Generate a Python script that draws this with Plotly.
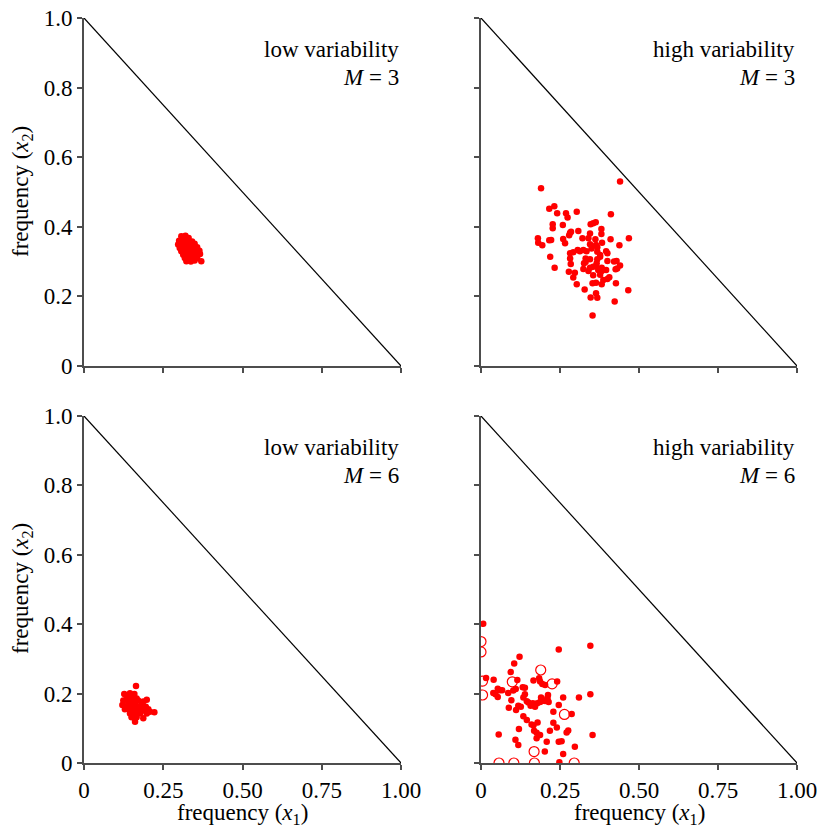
import plotly.graph_objects as go

# ---------------- data ----------------
x_ticks = [0, 0.25, 0.5, 0.75, 1.0]
x_tick_labels = ["0", "0.25", "0.50", "0.75", "1.00"]
y_ticks = [0, 0.2, 0.4, 0.6, 0.8, 1.0]
y_tick_labels = ["0", "0.2", "0.4", "0.6", "0.8", "1.0"]

panel_titles = ["low variability", "high variability", "low variability", "high variability"]
panel_M = [3, 3, 6, 6]

# low variability, M = 3
tl_x = [0.307, 0.320, 0.330, 0.300, 0.313, 0.326, 0.341, 0.297, 0.309, 0.323, 0.337, 0.349,
        0.302, 0.315, 0.328, 0.344, 0.357, 0.307, 0.320, 0.333, 0.349, 0.364, 0.313, 0.326,
        0.339, 0.354, 0.366, 0.318, 0.330, 0.344, 0.357, 0.323, 0.337, 0.349, 0.370]
tl_y = [0.373, 0.374, 0.368, 0.360, 0.360, 0.358, 0.358, 0.349, 0.349, 0.349, 0.349, 0.351,
        0.339, 0.339, 0.339, 0.339, 0.341, 0.330, 0.330, 0.330, 0.330, 0.331, 0.320, 0.320,
        0.320, 0.320, 0.322, 0.310, 0.310, 0.310, 0.310, 0.301, 0.300, 0.303, 0.301]

# high variability, M = 3
tr_x = [0.190, 0.440, 0.216, 0.232, 0.241, 0.269, 0.274, 0.303, 0.411, 0.227,
        0.227, 0.259, 0.347, 0.355, 0.363, 0.381, 0.381, 0.308, 0.282, 0.285,
        0.279, 0.345, 0.180, 0.181, 0.194, 0.216, 0.222, 0.260, 0.266, 0.321,
        0.340, 0.362, 0.383, 0.410, 0.468, 0.438, 0.345, 0.364, 0.368, 0.324,
        0.334, 0.350, 0.282, 0.292, 0.306, 0.313, 0.368, 0.377, 0.396, 0.400,
        0.219, 0.282, 0.331, 0.345, 0.368, 0.377, 0.326, 0.331, 0.366, 0.400,
        0.421, 0.429, 0.440, 0.284, 0.345, 0.355, 0.364, 0.382, 0.324, 0.233,
        0.278, 0.297, 0.340, 0.371, 0.382, 0.396, 0.426, 0.431, 0.355, 0.377,
        0.292, 0.387, 0.400, 0.406, 0.353, 0.364, 0.382, 0.427, 0.303, 0.328,
        0.466, 0.364, 0.347, 0.368, 0.423, 0.353]
tr_y = [0.511, 0.530, 0.452, 0.459, 0.439, 0.439, 0.427, 0.443, 0.436, 0.407,
        0.396, 0.405, 0.407, 0.410, 0.413, 0.394, 0.379, 0.388, 0.383, 0.386,
        0.376, 0.381, 0.367, 0.354, 0.347, 0.361, 0.362, 0.365, 0.353, 0.367,
        0.367, 0.364, 0.354, 0.364, 0.367, 0.347, 0.350, 0.348, 0.341, 0.333,
        0.330, 0.338, 0.324, 0.327, 0.333, 0.330, 0.328, 0.319, 0.330, 0.324,
        0.314, 0.309, 0.309, 0.307, 0.307, 0.314, 0.295, 0.299, 0.295, 0.302,
        0.300, 0.302, 0.289, 0.293, 0.282, 0.285, 0.287, 0.282, 0.279, 0.282,
        0.271, 0.268, 0.273, 0.276, 0.273, 0.276, 0.278, 0.280, 0.261, 0.262,
        0.254, 0.247, 0.250, 0.255, 0.238, 0.239, 0.235, 0.238, 0.235, 0.220,
        0.218, 0.209, 0.197, 0.196, 0.185, 0.145]

# low variability, M = 6
bl_x = [0.164, 0.127, 0.145, 0.159, 0.135, 0.150, 0.166, 0.124, 0.140, 0.156, 0.171, 0.187,
        0.198, 0.121, 0.135, 0.150, 0.166, 0.182, 0.195, 0.140, 0.156, 0.171, 0.187, 0.203,
        0.222, 0.145, 0.161, 0.177, 0.198, 0.150, 0.166, 0.187, 0.161, 0.129, 0.208]
bl_y = [0.222, 0.199, 0.201, 0.199, 0.191, 0.189, 0.186, 0.180, 0.179, 0.177, 0.180, 0.177,
        0.182, 0.167, 0.164, 0.167, 0.164, 0.167, 0.162, 0.155, 0.153, 0.155, 0.151, 0.155,
        0.146, 0.143, 0.141, 0.143, 0.143, 0.132, 0.132, 0.129, 0.119, 0.155, 0.148]

# high variability, M = 6 (filled points)
br_x = [0.007, 0.246, 0.346, 0.122, 0.105, 0.094, 0.016, 0.040, 0.115, 0.166,
        0.184, 0.187, 0.241, 0.132, 0.139, 0.194, 0.203, 0.053, 0.060, 0.067,
        0.039, 0.046, 0.053, 0.086, 0.102, 0.110, 0.139, 0.134, 0.212, 0.210,
        0.190, 0.260, 0.310, 0.346, 0.096, 0.145, 0.150, 0.178, 0.187, 0.193,
        0.203, 0.214, 0.210, 0.157, 0.164, 0.171, 0.118, 0.126, 0.088, 0.246,
        0.111, 0.229, 0.287, 0.134, 0.145, 0.179, 0.160, 0.166, 0.229, 0.240,
        0.120, 0.168, 0.176, 0.187, 0.176, 0.218, 0.271, 0.276, 0.056, 0.353,
        0.109, 0.118, 0.208, 0.246, 0.255, 0.297, 0.260, 0.202, 0.248]
br_y = [0.401, 0.327, 0.338, 0.306, 0.287, 0.262, 0.245, 0.240, 0.239, 0.238,
        0.244, 0.235, 0.235, 0.218, 0.217, 0.228, 0.225, 0.214, 0.210, 0.210,
        0.202, 0.198, 0.190, 0.202, 0.209, 0.213, 0.198, 0.189, 0.196, 0.187,
        0.189, 0.189, 0.189, 0.198, 0.181, 0.178, 0.174, 0.172, 0.176, 0.179,
        0.179, 0.176, 0.184, 0.165, 0.172, 0.162, 0.165, 0.162, 0.159, 0.167,
        0.153, 0.148, 0.141, 0.135, 0.124, 0.117, 0.111, 0.109, 0.116, 0.102,
        0.098, 0.093, 0.087, 0.081, 0.071, 0.093, 0.088, 0.094, 0.082, 0.081,
        0.067, 0.052, 0.061, 0.061, 0.063, 0.047, 0.026, 0.033, 0.002]

# high variability, M = 6 (open circles)
br_open_x = [0.000, 0.000, 0.005, 0.005, 0.189, 0.099, 0.225, 0.264, 0.168, 0.057, 0.104, 0.169, 0.295]
br_open_y = [0.350, 0.320, 0.236, 0.196, 0.268, 0.234, 0.228, 0.140, 0.033, 0.000, 0.000, 0.000, 0.000]

simplex_x = [0, 1]
simplex_y = [1, 0]

# ---------------- figure ----------------
W, H = 820, 829
FONT = "Liberation Serif, Times New Roman, serif"
FS = 23
RED = "#ff0000"
AXC = "#4d4d4d"


def px_x(p):
    return p / W


def px_y(p):
    return 1 - p / H


xdom = [[px_x(84), px_x(401)], [px_x(481), px_x(797)]]
ydom = [[px_y(366), px_y(18)], [px_y(763), px_y(416)]]

fig = go.Figure()

panels = [
    (tl_x, tl_y, 0, 0),
    (tr_x, tr_y, 1, 0),
    (bl_x, bl_y, 0, 1),
    (br_x, br_y, 1, 1),
]

layout = dict(
    width=W, height=H,
    margin=dict(l=0, r=0, t=0, b=0, autoexpand=False),
    paper_bgcolor="white", plot_bgcolor="white",
    showlegend=False,
    font=dict(family=FONT, size=FS, color="black"),
)

annotations = []
for i, (px, py, col, row) in enumerate(panels):
    n = i + 1
    xa = "x" if n == 1 else f"x{n}"
    ya = "y" if n == 1 else f"y{n}"
    fig.add_trace(go.Scatter(x=simplex_x, y=simplex_y, mode="lines",
                             line=dict(color="black", width=1.2),
                             xaxis=xa, yaxis=ya, hoverinfo="skip"))
    fig.add_trace(go.Scatter(x=px, y=py, mode="markers",
                             marker=dict(color=RED, size=6.5, line=dict(width=0)),
                             xaxis=xa, yaxis=ya))
    if n == 4:
        fig.add_trace(go.Scatter(x=br_open_x, y=br_open_y, mode="markers",
                                 marker=dict(symbol="circle-open", color=RED, size=10,
                                             line=dict(width=1.2, color=RED)),
                                 xaxis=xa, yaxis=ya))
    show_xlab = row == 1
    show_ylab = col == 0
    xkey = "xaxis" if n == 1 else f"xaxis{n}"
    ykey = "yaxis" if n == 1 else f"yaxis{n}"
    layout[xkey] = dict(
        domain=xdom[col], range=[0, 1], anchor=ya, automargin=False,
        showline=True, linecolor=AXC, linewidth=2,
        ticks="outside", ticklen=5, tickwidth=1.5, tickcolor=AXC,
        tickvals=x_ticks, ticktext=x_tick_labels, showticklabels=show_xlab,
        ticklabeloverflow="allow",
        showgrid=False, zeroline=False,
        tickfont=dict(family=FONT, size=FS, color="black"),
    )
    layout[ykey] = dict(
        domain=ydom[row], range=[0, 1], anchor=xa, automargin=False,
        showline=True, linecolor=AXC, linewidth=2,
        ticks="outside", ticklen=5, tickwidth=1.5, tickcolor=AXC,
        tickvals=y_ticks, ticktext=y_tick_labels, showticklabels=show_ylab,
        ticklabeloverflow="allow",
        showgrid=False, zeroline=False,
        tickfont=dict(family=FONT, size=FS, color="black"),
    )
    annotations.append(dict(x=1, y=0.91, xref=xa, yref=ya, text=panel_titles[i],
                            showarrow=False, xanchor="right", yanchor="middle",
                            font=dict(family=FONT, size=FS, color="black")))
    annotations.append(dict(x=1, y=0.829, xref=xa, yref=ya,
                            text=f"<i>M</i> = {panel_M[i]}",
                            showarrow=False, xanchor="right", yanchor="middle",
                            font=dict(family=FONT, size=FS, color="black")))

# axis titles
for yc in [px_y(192), px_y(589)]:
    annotations.append(dict(x=px_x(22), y=yc, xref="paper", yref="paper",
                            text="frequency (<i>x</i><sub>2</sub>)", textangle=-90,
                            showarrow=False, xanchor="center", yanchor="middle",
                            font=dict(family=FONT, size=FS, color="black")))
for xc in [px_x(242), px_x(639)]:
    annotations.append(dict(x=xc, y=px_y(814), xref="paper", yref="paper",
                            text="frequency (<i>x</i><sub>1</sub>)",
                            showarrow=False, xanchor="center", yanchor="middle",
                            font=dict(family=FONT, size=FS, color="black")))

layout["annotations"] = annotations
fig.update_layout(**layout)
fig.write_html(
    "out.html",
    config={"displayModeBar": False},
    post_script="document.body.style.margin='0';document.body.style.overflow='hidden';",
)
